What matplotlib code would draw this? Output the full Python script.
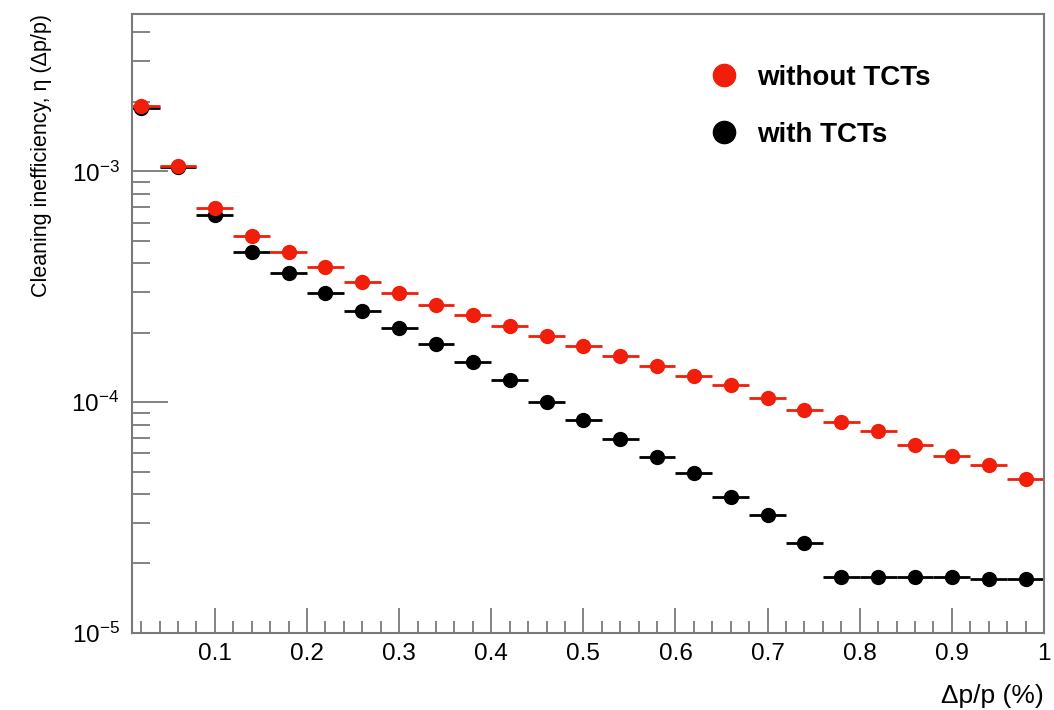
import matplotlib.pyplot as plt
from matplotlib.lines import Line2D
from matplotlib.ticker import LogLocator, MultipleLocator, NullFormatter, FixedLocator

plt.rcParams['font.family'] = ['Liberation Sans', 'DejaVu Sans']
plt.rcParams['mathtext.fontset'] = 'custom'
plt.rcParams['mathtext.rm'] = 'Liberation Sans'
plt.rcParams['mathtext.it'] = 'Liberation Sans:italic'

red = '#f01e0a'
black = '#000000'
frame_color = '#7a7a7a'

# bin centres in dp/p (%)
dpp = [0.02, 0.06, 0.10, 0.14, 0.18, 0.22, 0.26, 0.30, 0.34, 0.38, 0.42, 0.46, 0.50,
       0.54, 0.58, 0.62, 0.66, 0.70, 0.74, 0.78, 0.82, 0.86, 0.90, 0.94, 0.98]
half_width = 0.02

without_tcts = [1.92e-3, 1.06e-3, 6.91e-4, 5.27e-4, 4.49e-4, 3.86e-4, 3.32e-4, 2.98e-4,
                2.64e-4, 2.39e-4, 2.14e-4, 1.94e-4, 1.75e-4, 1.585e-4, 1.43e-4, 1.30e-4,
                1.19e-4, 1.04e-4, 9.23e-5, 8.18e-5, 7.48e-5, 6.50e-5, 5.82e-5, 5.37e-5, 4.63e-5]

with_tcts = [1.88e-3, 1.05e-3, 6.50e-4, 4.49e-4, 3.64e-4, 2.98e-4, 2.49e-4, 2.10e-4,
             1.79e-4, 1.49e-4, 1.25e-4, 1.0e-4, 8.35e-5, 6.90e-5, 5.77e-5, 4.91e-5,
             3.90e-5, 3.23e-5, 2.46e-5, 1.75e-5, 1.74e-5, 1.74e-5, 1.74e-5, 1.72e-5, 1.72e-5]

fig = plt.figure(figsize=(10.54, 7.10), dpi=100)
ax = fig.add_axes([0.1252, 0.1085, 0.8653, 0.8715])

ax.errorbar(dpp, with_tcts, xerr=half_width, fmt='o', color=black, ms=10,
            elinewidth=2, capsize=0)
ax.errorbar(dpp, without_tcts, xerr=half_width, fmt='o', color=red, ms=10,
            elinewidth=2, capsize=0)

ax.set_yscale('log')
ax.set_xlim(0.01, 1.0)
ax.set_ylim(1e-5, 4.8e-3)

ax.xaxis.set_major_locator(FixedLocator([0.1, 0.2, 0.3, 0.4, 0.5, 0.6, 0.7, 0.8, 0.9, 1.0]))
ax.xaxis.set_minor_locator(MultipleLocator(0.02))
ax.set_xticklabels(['0.1', '0.2', '0.3', '0.4', '0.5', '0.6', '0.7', '0.8', '0.9', '1'])

ax.yaxis.set_major_locator(FixedLocator([1e-5, 1e-4, 1e-3]))
ax.set_yticklabels(['$10^{-5}$', '$10^{-4}$', '$10^{-3}$'])
ax.yaxis.set_minor_locator(LogLocator(base=10, subs=range(2, 10)))
ax.yaxis.set_minor_formatter(NullFormatter())

ax.tick_params(axis='x', which='major', direction='in', length=18, width=1.3,
               color=frame_color, labelsize=17.5, pad=7)
ax.tick_params(axis='x', which='minor', direction='in', length=9, width=1.3,
               color=frame_color)
ax.tick_params(axis='y', which='major', direction='in', length=26, width=1.3,
               color=frame_color, labelsize=17.5, pad=9)
ax.tick_params(axis='y', which='minor', direction='in', length=13, width=1.3,
               color=frame_color)

for s in ax.spines.values():
    s.set_color(frame_color)
    s.set_linewidth(1.5)

fig.text(0.039, 0.98, 'Cleaning inefficiency, \u03b7 (\u0394p/p)', rotation=90,
         ha='center', va='top', fontsize=15.5)
fig.text(0.99, 0.02, '\u0394p/p (%)', ha='right', va='center', fontsize=19)

handles = [Line2D([], [], marker='o', ls='none', color=red, ms=16),
           Line2D([], [], marker='o', ls='none', color=black, ms=16)]
ax.legend(handles, ['without TCTs', 'with TCTs'], loc='upper left',
          bbox_to_anchor=(0.607, 0.958), frameon=False, prop={'weight': 'bold', 'size': 20},
          labelspacing=1.1, handletextpad=0.66, handlelength=1.0)

plt.savefig('out.png')
